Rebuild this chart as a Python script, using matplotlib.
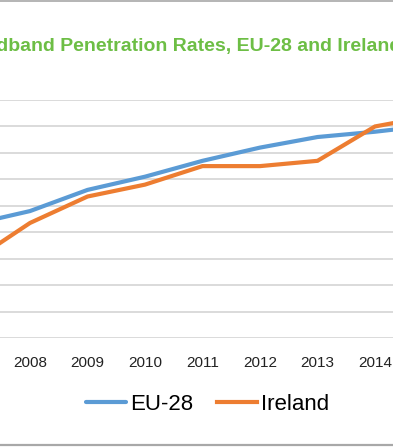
import matplotlib.pyplot as plt
from matplotlib.lines import Line2D
import numpy as np

plt.rcParams['font.family'] = ['Liberation Sans', 'DejaVu Sans']

years = [2007, 2008, 2009, 2010, 2011, 2012, 2013, 2014, 2015]
eu28 = [43, 48, 56, 61, 67, 72, 76, 78, 80.5]
ireland = [29, 43.5, 53.5, 58, 65, 65, 67, 80, 84]
tick_years = [2008, 2009, 2010, 2011, 2012, 2013, 2014]

W, H = 393, 447
fig = plt.figure(figsize=(W / 100, H / 100), dpi=100)

# axes wider than the figure: the chart is a cropped screenshot
ax = fig.add_axes([0, (H - 338) / H, 1, (338 - 100) / H])
ax.plot(years, eu28, color='#5B9BD5', linewidth=3, label='EU-28',
        solid_joinstyle='round', solid_capstyle='round')
ax.plot(years, ireland, color='#ED7D31', linewidth=3, label='Ireland',
        solid_joinstyle='miter')

px = 57.5
ax.set_xlim(2008 - 30 / px, 2008 + (W - 30) / px)
ax.set_ylim(0, 90)
ax.set_yticks(np.arange(0, 91, 10))
ax.set_yticklabels([])
ax.set_xticks(tick_years)
ax.set_xticklabels([str(y) for y in tick_years])
ax.tick_params(axis='both', length=0)
ax.tick_params(axis='x', pad=13, labelsize=11, labelcolor='#222222')
ax.grid(axis='y', color='#d4d4d4', linewidth=1.2)
ax.set_axisbelow(True)
for s in ax.spines.values():
    s.set_visible(False)

fig.text(401 / W, 1 - 46 / H, 'Broadband Penetration Rates, EU-28 and Ireland',
         ha='right', va='center', fontsize=14, fontweight='bold', color='#6DBE45')

fig.legend(loc='center', bbox_to_anchor=(207.5 / W, 1 - 404 / H), ncol=2,
           frameon=False, fontsize=16, handlelength=1.8, handletextpad=0.15,
           columnspacing=1.1)

# outer frame of the original chart (only top and bottom edges remain)
fig.add_artist(Line2D([0, 1], [1 - 1 / H, 1 - 1 / H], color='#a8a8a8', linewidth=1.2))
fig.add_artist(Line2D([0, 1], [1 - 445 / H, 1 - 445 / H], color='#a8a8a8', linewidth=1.6))

fig.savefig('out.png', dpi=100, facecolor='white')
